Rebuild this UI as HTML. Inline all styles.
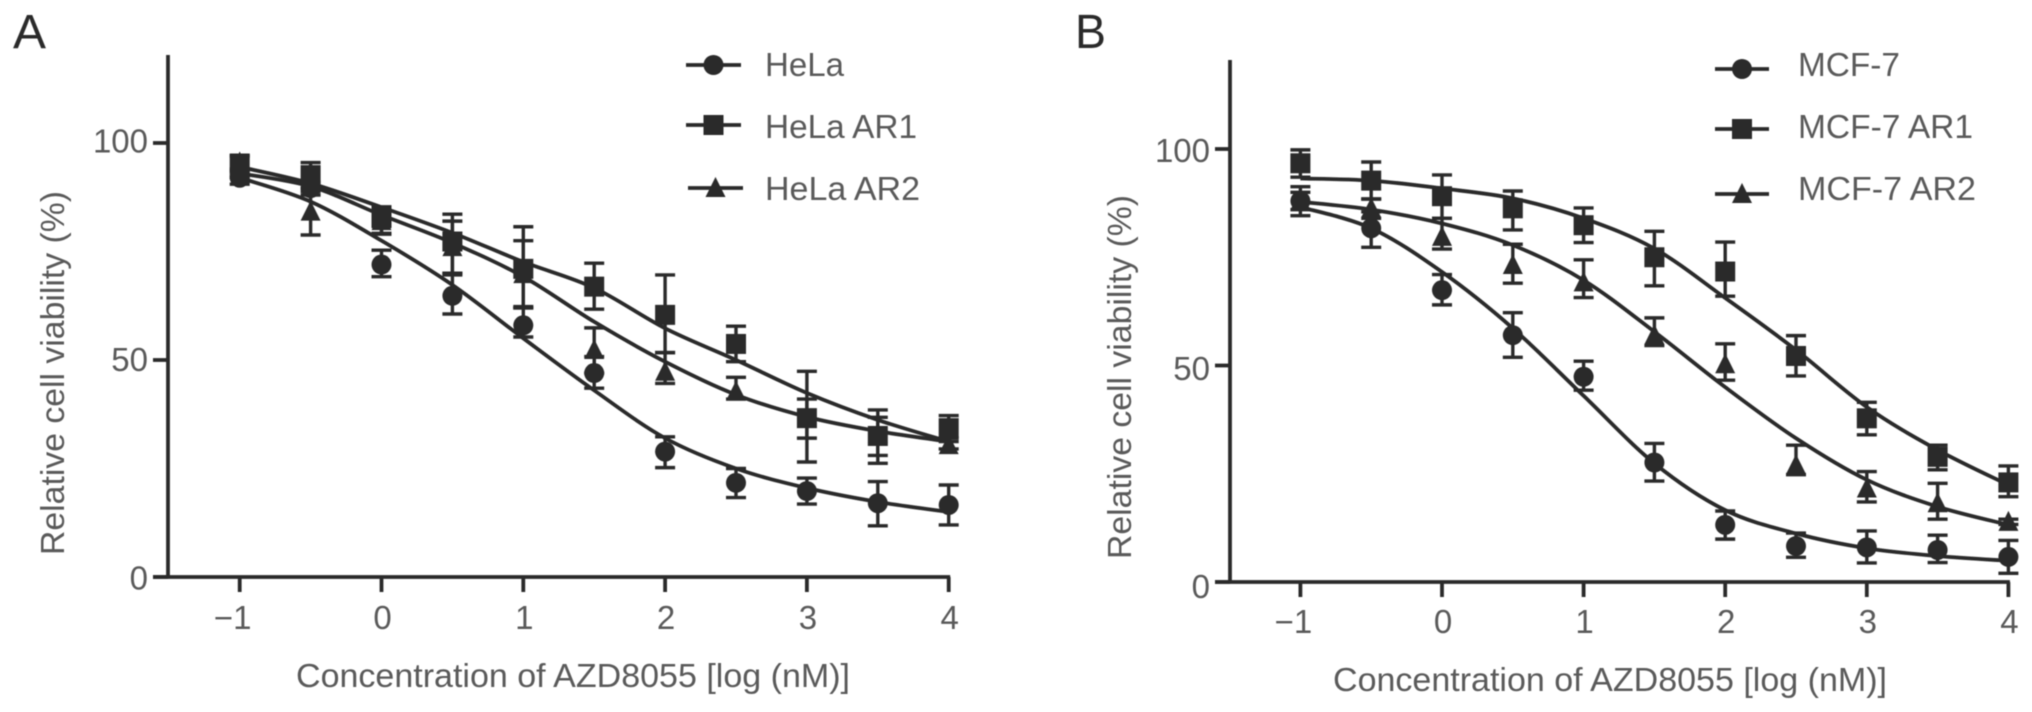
<!DOCTYPE html>
<html lang="en">
<head>
<meta charset="utf-8">
<title>Relative cell viability vs AZD8055 concentration</title>
<style>
html,body{margin:0;padding:0;background:#fff;width:2032px;height:712px;overflow:hidden}
svg{display:block}
text{font-family:"Liberation Sans",sans-serif;fill:#5a5a5a}
.panel-letter{font-size:48px;fill:#2a2a2a}
.title{font-size:33px}
.tick{font-size:33px}
.leg{font-size:33px}
</style>
</head>
<body>
<svg id="chart" xmlns="http://www.w3.org/2000/svg" width="2032" height="712" viewBox="0 0 2032 712">
  <defs><filter id="soft" x="-5%" y="-5%" width="110%" height="110%"><feGaussianBlur stdDeviation="0.6"/></filter></defs>
  <g filter="url(#soft)">
    <text class="panel-letter" x="13" y="48" textLength="33" lengthAdjust="spacingAndGlyphs">A</text>
    <text class="panel-letter" x="1075" y="48" textLength="31" lengthAdjust="spacingAndGlyphs">B</text>

    <g id="panel-a"></g>
    <g id="panel-b"></g>

    <text class="title" x="296" y="687" textLength="554" lengthAdjust="spacingAndGlyphs">Concentration of AZD8055 [log (nM)]</text>
    <text class="title" transform="translate(64,555) rotate(-90)" x="0" y="0" textLength="364" lengthAdjust="spacingAndGlyphs">Relative cell viability (%)</text>
    <text class="title" x="1333" y="691" textLength="554" lengthAdjust="spacingAndGlyphs">Concentration of AZD8055 [log (nM)]</text>
    <text class="title" transform="translate(1131,559) rotate(-90)" x="0" y="0" textLength="364" lengthAdjust="spacingAndGlyphs">Relative cell viability (%)</text>

    <text class="leg" x="765" y="76" textLength="79" lengthAdjust="spacingAndGlyphs">HeLa</text>
    <text class="leg" x="765" y="138" textLength="152" lengthAdjust="spacingAndGlyphs">HeLa AR1</text>
    <text class="leg" x="765" y="200" textLength="155" lengthAdjust="spacingAndGlyphs">HeLa AR2</text>
    <text class="leg" x="1798" y="76" textLength="102" lengthAdjust="spacingAndGlyphs">MCF-7</text>
    <text class="leg" x="1798" y="138" textLength="175" lengthAdjust="spacingAndGlyphs">MCF-7 AR1</text>
    <text class="leg" x="1798" y="200" textLength="178" lengthAdjust="spacingAndGlyphs">MCF-7 AR2</text>
  </g>
</svg>
<script>
// Shared axes data
const logConcentrations = [-1,-0.5,0,0.5,1,1.5,2,2.5,3,3.5,4];
const xTickLabels = [-1,0,1,2,3,4];
const yTickLabels = [0,50,100];

// Panel A: points, error bar limits and fitted curve
const helaMean  = [92,89.6,72,64.8,58,47,28.9,21.7,19.8,17,16.6];
const helaUpper = [93.5,91,75.3,69.6,62,50.8,32.3,25,22.8,22,21.2];
const helaLower = [90.5,88,69.2,60.6,55.3,43.5,25.2,18.3,16.8,11.8,12];
const helaCurve = [92,86.5,77.5,67.3,55,43,32,25,20.5,17.3,15];

const helaAr1Mean  = [94.5,92.6,82.7,77.3,71,66.9,60.4,53.7,36.6,32.5,34.3];
const helaAr1Upper = [97.2,95.5,85.3,83.6,80.7,72.3,69.6,57.8,47.4,38.5,37.2];
const helaAr1Lower = [92,88.8,79.2,70,62.3,61.7,51.7,49.6,26.5,26.2,31.2];
const helaAr1Curve = [94.5,90.7,85.2,79.3,72.6,66.6,57.3,50,42.4,36.2,31.2];

const helaAr2Mean  = [95.5,84.2,82,76,69.8,52.3,47.3,42.7,36.5,33,30.4];
const helaAr2Upper = [97,89.6,85,82,77.5,57.4,51.7,46,41,36.8,32];
const helaAr2Lower = [94,78.8,79,70,62,47,44.6,41,32,28,29.5];
const helaAr2Curve = [93,90,83.4,77,69.2,58.8,49.6,42,36.9,33.6,31.2];

// Panel B: points, error bar limits and fitted curve
const mcfMean  = [88,81.7,67.4,57,47.4,27.6,13.2,8.3,8,7.4,5.8];
const mcfUpper = [91.3,85.5,71,62.2,51,32,16.4,11.3,11.8,10.8,9.6];
const mcfLower = [84.6,77.3,64,51.9,44.3,23.3,9.9,5.7,4.4,4.5,2];
const mcfCurve = [86.6,81.7,71.6,58.6,43,27.4,16.6,11.2,7.8,6,4.9];

const mcfAr1Mean  = [96.7,92.7,89.1,86.3,82.4,75,71.7,52.2,37.8,28.9,23];
const mcfAr1Upper = [99.8,97,94,90.3,86.4,81,78.5,56.9,41.5,31.6,26.8];
const mcfAr1Lower = [93.5,88.4,84,81.3,78.4,68.4,66,47.6,34,25.9,19.7];
const mcfAr1Curve = [93.2,92.7,90.9,88.6,84,77,65.6,53.6,40.4,30.5,22.4];

const mcfAr2Mean  = [88,86.3,79.7,73.2,69.2,57,50.3,27,21.6,18.2,13.9];
const mcfAr2Upper = [90,88.5,84,78,74.4,61,55,31.6,25.5,22.8,14.5];
const mcfAr2Lower = [86,84,76.9,69,65.7,54.6,46.6,24.8,18.5,14.5,13.3];
const mcfAr2Curve = [87.8,86,82.8,77.8,69.7,57.8,45,33.2,23.6,17.4,13.2];

const SVGNS = 'http://www.w3.org/2000/svg';
const INK = '#2a2a2a';

function mk(parent, tag, attrs) {
  const el = document.createElementNS(SVGNS, tag);
  for (const k in attrs) el.setAttribute(k, attrs[k]);
  parent.appendChild(el);
  return el;
}

function smoothPath(pts) {
  let d = 'M' + pts[0][0] + ' ' + pts[0][1];
  for (let i = 0; i < pts.length - 1; i++) {
    const p0 = pts[Math.max(i - 1, 0)], p1 = pts[i], p2 = pts[i + 1], p3 = pts[Math.min(i + 2, pts.length - 1)];
    const c1x = p1[0] + (p2[0] - p0[0]) / 6, c1y = p1[1] + (p2[1] - p0[1]) / 6;
    const c2x = p2[0] - (p3[0] - p1[0]) / 6, c2y = p2[1] - (p3[1] - p1[1]) / 6;
    d += ' C' + c1x + ' ' + c1y + ' ' + c2x + ' ' + c2y + ' ' + p2[0] + ' ' + p2[1];
  }
  return d;
}

function drawMarker(g, shape, cx, cy) {
  if (shape === 'circle') return mk(g, 'circle', {cx: cx, cy: cy, r: 10, fill: INK});
  if (shape === 'square') return mk(g, 'rect', {x: cx - 10, y: cy - 10, width: 20, height: 20, fill: INK});
  return mk(g, 'polygon', {points: (cx - 10) + ',' + (cy + 9) + ' ' + cx + ',' + (cy - 11) + ' ' + (cx + 10) + ',' + (cy + 9), fill: INK});
}

function drawPanel(root, prefix, ax, series, legendLines) {
  const sx = v => ax.x0 + (v + 1) * ax.xUnit;
  const sy = v => ax.y0 - v * ax.yUnit;

  const xAxis = mk(root, 'line', {x1: ax.yAxisX - 15, y1: ax.y0, x2: sx(4) + 1.5, y2: ax.y0, stroke: INK, 'stroke-width': 3.8});
  
  
  const yAxis = mk(root, 'line', {x1: ax.yAxisX, y1: ax.yTop, x2: ax.yAxisX, y2: ax.y0 + 1.5, stroke: INK, 'stroke-width': 3.8});
  
  

  xTickLabels.forEach(t => {
    const tick = mk(root, 'line', {x1: sx(t), y1: ax.y0, x2: sx(t), y2: ax.y0 + 15, stroke: INK, 'stroke-width': 3.8});
    
    
    const lab = mk(root, 'text', {x: t < 0 ? sx(t) - 7 : sx(t) + 1, y: ax.xLabelY, 'text-anchor': 'middle', class: 'tick'});
    
    
    lab.textContent = t < 0 ? '\u2212' + Math.abs(t) : String(t);
  });

  yTickLabels.forEach(t => {
    const tick = mk(root, 'line', {x1: ax.yAxisX - 15, y1: sy(t), x2: ax.yAxisX, y2: sy(t), stroke: INK, 'stroke-width': 3.8});
    
    
    const lab = mk(root, 'text', {x: ax.yAxisX - 20, y: ax.yLabelBase - t * ax.yLabelUnit, 'text-anchor': 'end', class: 'tick'});
    
    
    lab.textContent = String(t);
  });

  series.forEach((s, si) => {
    const g = mk(root, 'g', {});
    
    

    const pts = logConcentrations.map((x, i) => [sx(x), sy(s.curve[i])]);
    const curve = mk(g, 'path', {d: smoothPath(pts), fill: 'none', stroke: INK, 'stroke-width': 3.8});
    
    

    logConcentrations.forEach((x, i) => {
      const px = sx(x);
      const bar = mk(g, 'path', {
        d: 'M' + (px - 10) + ' ' + sy(s.upper[i]) + 'H' + (px + 10) +
           'M' + px + ' ' + sy(s.upper[i]) + 'V' + sy(s.lower[i]) +
           'M' + (px - 10) + ' ' + sy(s.lower[i]) + 'H' + (px + 10),
        fill: 'none', stroke: INK, 'stroke-width': 3.4
      });
      
      
      const m = drawMarker(g, s.shape, px, sy(s.mean[i]));
      
      
    });

    const L = legendLines[si];
    const ll = mk(g, 'line', {x1: L[0], y1: L[2], x2: L[1], y2: L[2], stroke: INK, 'stroke-width': 3.8});
    
    
    const lm = drawMarker(g, s.shape, (L[0] + L[1]) / 2, L[2]);
    
    
  });
}

drawPanel(document.getElementById('panel-a'), 'panel-a',
  {x0: 239.7, xUnit: 141.8, y0: 577, yUnit: 4.34, yAxisX: 168, yTop: 55, xLabelY: 629, yLabelBase: 589.5, yLabelUnit: 4.37},
  [
    {key: 'hela-ar1', shape: 'square', mean: helaAr1Mean, upper: helaAr1Upper, lower: helaAr1Lower, curve: helaAr1Curve},
    {key: 'hela-ar2', shape: 'triangle', mean: helaAr2Mean, upper: helaAr2Upper, lower: helaAr2Lower, curve: helaAr2Curve},
    {key: 'hela', shape: 'circle', mean: helaMean, upper: helaUpper, lower: helaLower, curve: helaCurve}
  ],
  [[686, 741, 125], [688, 743, 188], [686, 741, 65]]
);

drawPanel(document.getElementById('panel-b'), 'panel-b',
  {x0: 1300.4, xUnit: 141.6, y0: 582, yUnit: 4.33, yAxisX: 1230, yTop: 60, xLabelY: 633, yLabelBase: 598, yLabelUnit: 4.36},
  [
    {key: 'mcf7-ar1', shape: 'square', mean: mcfAr1Mean, upper: mcfAr1Upper, lower: mcfAr1Lower, curve: mcfAr1Curve},
    {key: 'mcf7-ar2', shape: 'triangle', mean: mcfAr2Mean, upper: mcfAr2Upper, lower: mcfAr2Lower, curve: mcfAr2Curve},
    {key: 'mcf7', shape: 'circle', mean: mcfMean, upper: mcfUpper, lower: mcfLower, curve: mcfCurve}
  ],
  [[1715, 1769, 129], [1715, 1769, 194], [1715, 1769, 69]]
);
</script>
</body>
</html>
